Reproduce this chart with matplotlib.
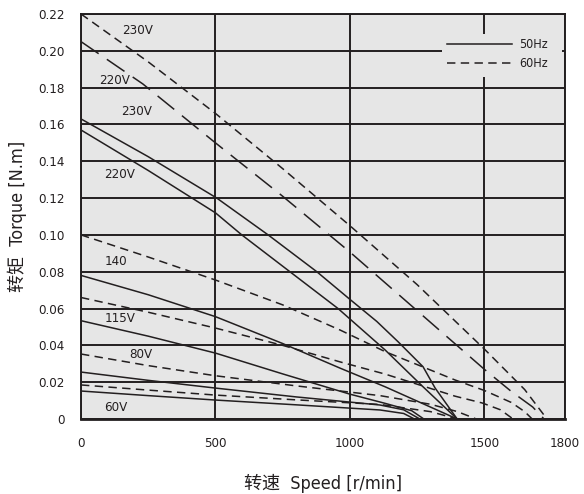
import matplotlib
matplotlib.use('Agg')
import matplotlib.pyplot as plt
from matplotlib import font_manager
from matplotlib.patches import Rectangle

# speed [r/min] / torque [N.m]
v230_60_speed = [0, 250, 500, 750, 1000, 1250, 1500, 1650, 1733]
v230_60_torque = [0.220, 0.194, 0.166, 0.136, 0.105, 0.073, 0.038, 0.016, 0.0]
v220_60_speed = [0, 230, 500, 750, 1000, 1335, 1500, 1600, 1680, 1722]
v220_60_torque = [0.205, 0.182, 0.150, 0.121, 0.0907, 0.048, 0.027, 0.015, 0.0065, 0.0]
v230_50_speed = [0, 250, 505, 696, 877, 1000, 1100, 1179, 1272, 1317, 1399]
v230_50_torque = [0.163, 0.1425, 0.120, 0.100, 0.080, 0.065, 0.053, 0.042, 0.0284, 0.0168, 0.0]
v220_50_speed = [0, 250, 500, 598, 777, 956, 1131, 1272, 1399]
v220_50_torque = [0.157, 0.135, 0.112, 0.100, 0.080, 0.060, 0.0375, 0.0175, 0.0]
v140_60_speed = [0, 250, 500, 750, 964, 1131, 1391, 1500, 1600, 1650, 1678]
v140_60_torque = [0.100, 0.088, 0.0755, 0.062, 0.0483, 0.0366, 0.0212, 0.0155, 0.009, 0.004, 0.0]
v140_50_speed = [0, 250, 500, 750, 964, 1131, 1399]
v140_50_torque = [0.078, 0.0675, 0.0556, 0.041, 0.0276, 0.0175, 0.0]
v115_60_speed = [0, 250, 500, 750, 964, 1131, 1391, 1492, 1560, 1607]
v115_60_torque = [0.066, 0.058, 0.0494, 0.040, 0.031, 0.0244, 0.0124, 0.0087, 0.005, 0.0]
v115_50_speed = [0, 250, 500, 750, 1000, 1131, 1230, 1275]
v115_50_torque = [0.0534, 0.045, 0.0358, 0.0245, 0.0135, 0.0085, 0.0045, 0.0]
v80_60_speed = [0, 250, 500, 800, 1112, 1300, 1400, 1470]
v80_60_torque = [0.0353, 0.029, 0.0235, 0.018, 0.0127, 0.008, 0.004, 0.0]
v80_50_speed = [0, 250, 500, 800, 1112, 1200, 1260]
v80_50_torque = [0.0255, 0.021, 0.0168, 0.012, 0.0076, 0.005, 0.0]
v60_60_speed = [0, 250, 500, 800, 1112, 1300, 1400]
v60_60_torque = [0.0185, 0.0157, 0.013, 0.0104, 0.0079, 0.004, 0.0]
v60_50_speed = [0, 250, 500, 800, 1112, 1200, 1240]
v60_50_torque = [0.0152, 0.0127, 0.0103, 0.0077, 0.0049, 0.003, 0.0]

labels = ['230V', '220V', '230V', '220V', '140', '115V', '80V', '60V']
label_x = [212, 126, 208, 145, 130, 145, 223, 130]
label_y = [0.211, 0.184, 0.167, 0.133, 0.0858, 0.0548, 0.0348, 0.006]

x_ticks = [0, 500, 1000, 1500, 1800]
y_ticks = [0, 0.02, 0.04, 0.06, 0.08, 0.10, 0.12, 0.14, 0.16, 0.18, 0.20, 0.22]

ink = '#231f20'
bg = '#e6e6e6'

# the original uses a condensed grotesque; take a narrow face if one is there
fonts = font_manager.fontManager.ttflist
if any(f.name == 'Liberation Sans Narrow' for f in fonts):
    plt.rcParams['font.family'] = ['Liberation Sans Narrow', 'Noto Sans CJK SC']
elif any(f.name == 'DejaVu Sans' and 'condensed' in str(f.stretch) for f in fonts):
    plt.rcParams['font.family'] = ['DejaVu Sans', 'Noto Sans CJK SC']
    plt.rcParams['font.stretch'] = 'condensed'
else:
    plt.rcParams['font.family'] = ['Liberation Sans', 'Noto Sans CJK SC']

fig = plt.figure(figsize=(5.84, 4.94), dpi=100)
ax = fig.add_axes([81 / 584, 1 - 419 / 494, 484 / 584, 405 / 494])
ax.set_facecolor(bg)

short_dash = (0, (5.5, 3.5))
long_dash = (0, (14, 6.5))
lw = 1.1

ax.plot(v230_60_speed, v230_60_torque, color=ink, lw=lw, ls=short_dash)
ax.plot(v220_60_speed, v220_60_torque, color=ink, lw=lw, ls=long_dash)
ax.plot(v230_50_speed, v230_50_torque, color=ink, lw=lw)
ax.plot(v220_50_speed, v220_50_torque, color=ink, lw=lw)
ax.plot(v140_60_speed, v140_60_torque, color=ink, lw=lw, ls=short_dash)
ax.plot(v140_50_speed, v140_50_torque, color=ink, lw=lw)
ax.plot(v115_60_speed, v115_60_torque, color=ink, lw=lw, ls=short_dash)
ax.plot(v115_50_speed, v115_50_torque, color=ink, lw=lw)
ax.plot(v80_60_speed, v80_60_torque, color=ink, lw=lw, ls=short_dash)
ax.plot(v80_50_speed, v80_50_torque, color=ink, lw=lw)
ax.plot(v60_60_speed, v60_60_torque, color=ink, lw=lw, ls=short_dash)
ax.plot(v60_50_speed, v60_50_torque, color=ink, lw=lw)

for txt, tx, ty in zip(labels, label_x, label_y):
    ax.text(tx, ty, txt, fontsize=9.5, color=ink, ha='center', va='center')

# grey patch under the legend so the grid stops around it
ax.add_patch(Rectangle((0.746, 0.844), 0.248, 0.107, transform=ax.transAxes,
                       facecolor=bg, edgecolor='none', zorder=1))
h50, = ax.plot([], [], color=ink, lw=lw, label='50Hz')
h60, = ax.plot([], [], color=ink, lw=lw, ls=short_dash, label='60Hz')
leg = ax.legend(handles=[h50, h60], loc='upper left', bbox_to_anchor=(0.756, 0.94),
                borderaxespad=0, borderpad=0, frameon=False, fontsize=9,
                handlelength=5.2, handletextpad=0.6, labelspacing=0.45)
for t in leg.get_texts():
    t.set_color(ink)

ax.set_xlim(0, 1800)
ax.set_ylim(0, 0.22)
ax.set_xticks(x_ticks)
ax.set_xticklabels([str(v) for v in x_ticks])
ax.set_yticks(y_ticks)
ax.set_yticklabels(['0'] + ['%.2f' % v for v in y_ticks[1:]])
ax.tick_params(length=0, labelsize=9.5, colors=ink)
ax.tick_params(axis='x', pad=13)
ax.tick_params(axis='y', pad=12)

ax.set_axisbelow(True)
ax.xaxis.grid(True, color=ink, lw=1.4)
ax.yaxis.grid(True, color=ink, lw=1.4)
for s in ax.spines.values():
    s.set_color(ink)
    s.set_linewidth(1.4)
ax.spines['bottom'].set_linewidth(2)

ax.set_xlabel('转速  Speed [r/min]', fontsize=13, color=ink)
ax.set_ylabel('转矩  Torque [N.m]', fontsize=13, color=ink)
ax.xaxis.set_label_coords(0.5, -0.135)
ax.yaxis.set_label_coords(-0.112, 0.5)

fig.savefig('out.png', dpi=100)
